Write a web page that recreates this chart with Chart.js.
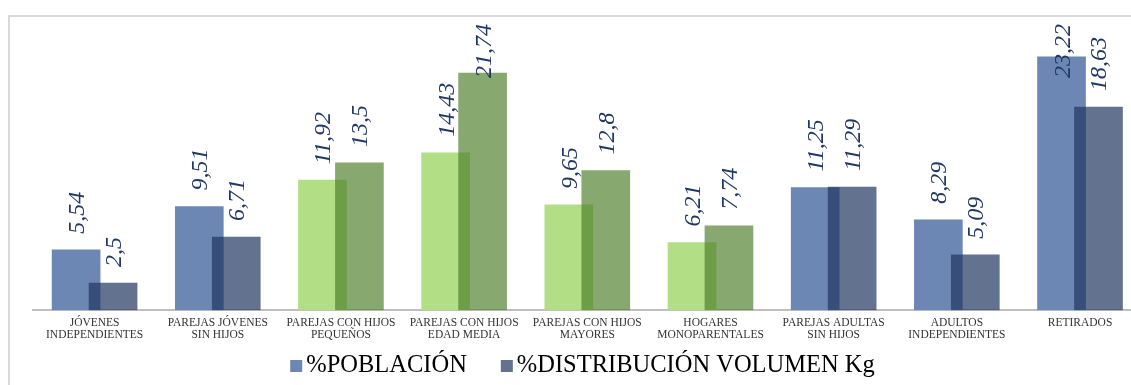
<!DOCTYPE html>
<html lang="es">
<head>
<meta charset="utf-8">
<title>Población y distribución del volumen por ciclo de vida</title>
<script src="https://cdn.jsdelivr.net/npm/chart.js@4.4.1/dist/chart.umd.min.js"></script>
<style>
    html, body { margin: 0; padding: 0; background: #fff; overflow: hidden; }
    #grafica { display: block; }
</style>
</head>
<body>
<canvas id="grafica" width="1150" height="385"></canvas>
<script>
const categorias = [
    ['JÓVENES', 'INDEPENDIENTES'],
    ['PAREJAS JÓVENES', 'SIN HIJOS'],
    ['PAREJAS CON HIJOS', 'PEQUEÑOS'],
    ['PAREJAS CON HIJOS', 'EDAD MEDIA'],
    ['PAREJAS CON HIJOS', 'MAYORES'],
    ['HOGARES', 'MONOPARENTALES'],
    ['PAREJAS ADULTAS', 'SIN HIJOS'],
    ['ADULTOS', 'INDEPENDIENTES'],
    ['RETIRADOS']
];
const poblacion = [5.54, 9.51, 11.92, 14.43, 9.65, 6.21, 11.25, 8.29, 23.22];
const volumenKg = [2.5, 6.71, 13.5, 21.74, 12.8, 7.74, 11.29, 5.09, 18.63];
const series = ['%POBLACIÓN', '%DISTRIBUCIÓN VOLUMEN Kg'];

// categorias con hijos en casa van en verde, el resto en azul
const categoriasVerdes = [2, 3, 4, 5];
const colores = {
    poblacion: {azul: '#6d87b5', verde: '#b2de85'},
    volumen: {azul: 'rgba(31, 54, 95, 0.7)', verde: 'rgba(78, 127, 43, 0.68)'}
};

const desfase = 0.15;
const anchoBarra = 48;
const centroMarco = 582.5;

function colorPorCategoria(serie) {
    return categorias.map((c, i) => categoriasVerdes.includes(i) ? colores[serie].verde : colores[serie].azul);
}

function puntos(valores, corrimiento) {
    return valores.map((v, i) => ({x: i + corrimiento, y: v}));
}

const marco = {
    id: 'marco',
    beforeDraw(chart) {
        const ctx = chart.ctx;
        ctx.save();
        ctx.strokeStyle = '#d9d9d9';
        ctx.lineWidth = 2;
        ctx.strokeRect(9, 16, 1147, 420);
        ctx.restore();
    }
};

const etiquetasValor = {
    id: 'etiquetasValor',
    afterDatasetsDraw(chart) {
        const ctx = chart.ctx;
        ctx.save();
        ctx.font = 'italic 24px "Liberation Serif"';
        ctx.fillStyle = '#203864';
        ctx.textAlign = 'left';
        ctx.textBaseline = 'alphabetic';
        chart.data.datasets.forEach((ds, d) => {
            chart.getDatasetMeta(d).data.forEach((barra, i) => {
                const texto = String(ds.data[i].y).replace('.', ',');
                const largo = ctx.measureText(texto).width;
                let inicio = barra.y - 16;
                if (inicio - largo < 24) {
                    inicio = 24 + largo;
                }
                ctx.save();
                ctx.translate(barra.x + 8, inicio);
                ctx.rotate(-Math.PI / 2);
                ctx.fillText(texto, 0, 0);
                ctx.restore();
            });
        });
        ctx.restore();
    }
};

const leyenda = {
    id: 'leyenda',
    afterDraw(chart) {
        const ctx = chart.ctx;
        const coloresLeyenda = [colores.poblacion.azul, colores.volumen.azul];
        ctx.save();
        ctx.font = '24.5px "Liberation Serif"';
        ctx.textBaseline = 'middle';
        const anchos = series.map(s => ctx.measureText(s).width);
        const total = anchos.reduce((a, b) => a + b, 0) + series.length * 16 + 34 * (series.length - 1);
        let x = centroMarco - total / 2;
        const y = chart.height - 25;
        series.forEach((s, i) => {
            ctx.fillStyle = coloresLeyenda[i];
            ctx.fillRect(x, y, 12, 12);
            ctx.fillStyle = '#000';
            ctx.fillText(s, x + 16, y + 6);
            x += 16 + anchos[i] + 34;
        });
        ctx.restore();
    }
};

new Chart(document.getElementById('grafica'), {
    type: 'bar',
    data: {
        datasets: [{
            label: series[0],
            data: puntos(poblacion, -desfase),
            backgroundColor: colorPorCategoria('poblacion'),
            grouped: false,
            barThickness: anchoBarra,
            order: 1
        }, {
            label: series[1],
            data: puntos(volumenKg, desfase),
            backgroundColor: colorPorCategoria('volumen'),
            grouped: false,
            barThickness: anchoBarra,
            order: 0
        }]
    },
    options: {
        responsive: false,
        animation: false,
        layout: {
            padding: {left: 33, right: 8.4, top: 37.45, bottom: 36.6}
        },
        plugins: {
            legend: {display: false},
            tooltip: {enabled: false}
        },
        scales: {
            x: {
                type: 'linear',
                min: -0.5,
                max: 8.5,
                offset: false,
                z: 1,
                grid: {display: false, drawTicks: false},
                border: {display: true, color: '#bfbfbf', width: 2},
                afterBuildTicks: eje => {
                    eje.ticks = categorias.map((c, i) => ({value: i}));
                },
                ticks: {
                    autoSkip: false,
                    maxRotation: 0,
                    padding: 7,
                    color: '#333333',
                    font: {family: '"Liberation Serif"', size: 11.5, lineHeight: 1.05},
                    callback: valor => categorias[valor]
                }
            },
            y: {
                display: false,
                min: 0,
                max: 25
            }
        }
    },
    plugins: [marco, etiquetasValor, leyenda]
});
</script>
</body>
</html>
